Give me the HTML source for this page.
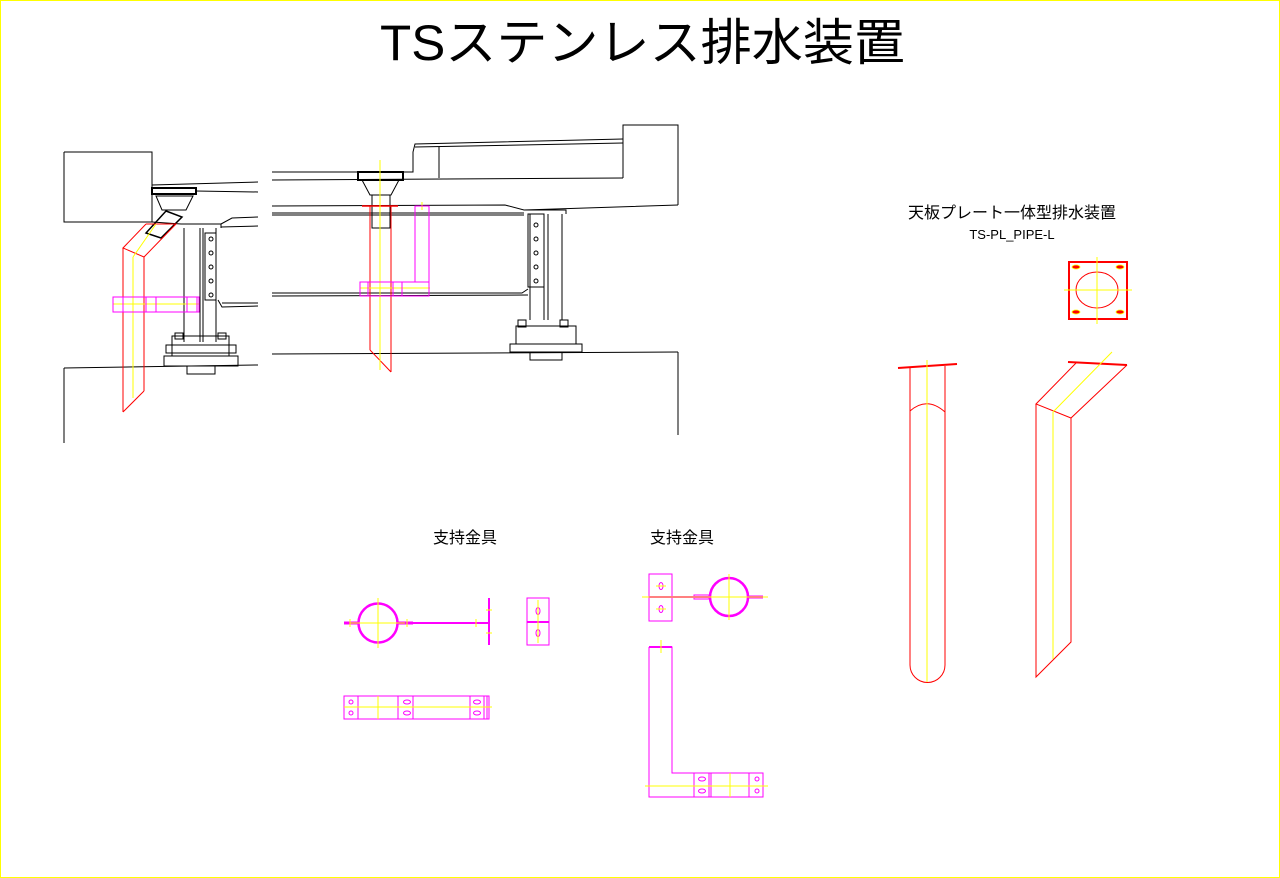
<!DOCTYPE html>
<html><head><meta charset="utf-8"><style>
html,body{margin:0;padding:0;background:#fff;}
svg{display:block;}
text{font-family:"Liberation Sans","Noto Sans CJK JP",sans-serif;}
</style></head><body>
<svg width="1280" height="878" viewBox="0 0 1280 878" xmlns="http://www.w3.org/2000/svg">
<rect x="0.5" y="0.5" width="1279" height="877" fill="#fff" stroke="#ffff00" stroke-width="1"/>
<text x="380" y="60" font-size="50" textLength="525" lengthAdjust="spacingAndGlyphs" fill="#000">TSステンレス排水装置</text>

<g fill="none" stroke="#000" stroke-width="1">
<!-- LEFT SECTION -->
<polyline points="64,152 152,152 152,222 64,222 64,152"/>
<line x1="152" y1="185" x2="258" y2="182"/>
<line x1="196" y1="191" x2="258" y2="192"/>
<line x1="152" y1="222" x2="181" y2="224"/>
<rect x="152" y="188" width="44" height="6" stroke-width="2"/>
<polygon points="156,196 193,196 186,210 162,210"/>
<polygon points="166,211 182,217 161,238 146,233" stroke-width="1.5"/>
<polyline points="181,224 221,224 221,228"/>
<line x1="184" y1="228" x2="184" y2="342"/>
<line x1="200" y1="228" x2="200" y2="342"/>
<line x1="203" y1="228" x2="203" y2="342"/>
<line x1="216" y1="228" x2="216" y2="342"/>
<rect x="205" y="233" width="11" height="67"/>
<circle cx="211" cy="239" r="2"/><circle cx="211" cy="253" r="2"/><circle cx="211" cy="267" r="2"/><circle cx="211" cy="281" r="2"/><circle cx="211" cy="295" r="2"/>
<polyline points="221,224 232,218 258,217"/>
<line x1="221" y1="227" x2="258" y2="226"/>
<polyline points="218,300 222,307 258,306"/>
<line x1="222" y1="303" x2="258" y2="303"/>
<rect x="172" y="336" width="57" height="20"/>
<rect x="175" y="333" width="8" height="6"/><rect x="218" y="333" width="8" height="6"/>
<rect x="166" y="345" width="70" height="8"/>
<rect x="164" y="356" width="74" height="10"/>
<rect x="187" y="366" width="28" height="8"/>
<line x1="64" y1="368" x2="258" y2="365"/>
<line x1="64" y1="368" x2="64" y2="443"/>

<!-- RIGHT SECTION -->
<line x1="272" y1="172" x2="358" y2="172"/>
<polyline points="403,172 413,172 413,152 415,144 623,139"/>
<line x1="415" y1="147" x2="623" y2="143"/>
<line x1="439" y1="147" x2="439" y2="178"/>
<line x1="272" y1="180" x2="623" y2="178"/>
<polyline points="623,178 623,125 678,125 678,205"/>
<polyline points="272,206 505,205 524,210 678,205"/>
<line x1="272" y1="213" x2="524" y2="213"/>
<line x1="272" y1="215" x2="524" y2="215"/>
<polyline points="272,293 522,293 528,289"/>
<line x1="272" y1="296" x2="528" y2="295"/>
<rect x="358" y="172" width="45" height="8" stroke-width="2"/>
<polygon points="362,180 399,180 391,195 370,195"/>
<rect x="372" y="195" width="18" height="33"/>
<polyline points="524,210 566,210 566,214"/>
<line x1="530" y1="214" x2="530" y2="320"/>
<line x1="544" y1="214" x2="544" y2="320"/>
<line x1="548" y1="214" x2="548" y2="320"/>
<line x1="562" y1="214" x2="562" y2="320"/>
<rect x="528" y="214" width="16" height="73"/>
<circle cx="536" cy="225" r="2"/><circle cx="536" cy="239" r="2"/><circle cx="536" cy="253" r="2"/><circle cx="536" cy="267" r="2"/><circle cx="536" cy="281" r="2"/>
<rect x="516" y="326" width="60" height="18"/>
<rect x="518" y="320" width="8" height="7"/><rect x="560" y="320" width="8" height="7"/>
<rect x="510" y="344" width="72" height="8"/>
<rect x="530" y="352" width="32" height="8"/>
<line x1="272" y1="354" x2="678" y2="352"/>
<line x1="678" y1="352" x2="678" y2="435"/>
</g>

<!-- red pipes in section -->
<g fill="none" stroke="#ff0000" stroke-width="1">
<polyline points="146,224 176,224 144,257 123,248 146,224"/>
<line x1="123" y1="248" x2="123" y2="412"/>
<line x1="144" y1="257" x2="144" y2="391"/>
<line x1="144" y1="391" x2="123" y2="412"/>
<line x1="362" y1="206" x2="398" y2="206" stroke-width="1.5"/>
<line x1="370" y1="206" x2="370" y2="350"/>
<line x1="391" y1="206" x2="391" y2="372"/>
<line x1="370" y1="350" x2="391" y2="372"/>
</g>
<g fill="none" stroke="#ffff00" stroke-width="1">
<line x1="133" y1="257" x2="133" y2="398"/>
<line x1="133" y1="257" x2="156" y2="224"/>
<line x1="113" y1="304" x2="199" y2="304"/>
<line x1="380" y1="160" x2="380" y2="370"/>
<line x1="360" y1="288" x2="430" y2="288"/>
<line x1="422" y1="202" x2="422" y2="210"/>
</g>
<g fill="none" stroke="#ff00ff" stroke-width="1">
<rect x="113" y="297" width="86" height="15"/>
<line x1="123" y1="297" x2="123" y2="312"/><line x1="146" y1="297" x2="146" y2="312"/><line x1="156" y1="297" x2="156" y2="312"/><line x1="187" y1="297" x2="187" y2="312"/><line x1="197" y1="297" x2="197" y2="312"/>
<polyline points="415,282 415,206 429,206 429,296"/>
<rect x="360" y="282" width="69" height="14"/>
<line x1="368" y1="282" x2="368" y2="296"/><line x1="393" y1="282" x2="393" y2="296"/><line x1="402" y1="282" x2="402" y2="296"/>
</g>

<!-- right pipe drawings -->
<text x="1012" y="218" font-size="16" text-anchor="middle" fill="#000">天板プレート一体型排水装置</text>
<text x="1012" y="239" font-size="13" text-anchor="middle" fill="#000">TS-PL_PIPE-L</text>
<g fill="none" stroke="#ff0000" stroke-width="1">
<rect x="1069" y="262" width="58" height="57" stroke-width="2"/>
<ellipse cx="1097" cy="290" rx="21" ry="18"/>
<line x1="898" y1="368" x2="957" y2="364" stroke-width="2"/>
<line x1="910" y1="368" x2="910" y2="665"/>
<line x1="945" y1="366" x2="945" y2="665"/>
<path d="M910,665 A17.5,17.5 0 0 0 945,665"/>
<path d="M910,411 Q927,396 945,412"/>
<line x1="1068" y1="362" x2="1127" y2="365" stroke-width="2"/>
<polyline points="1077,362 1036,404 1071,418 1127,365"/>
<polyline points="1036,404 1036,677 1071,642 1071,418"/>
</g>
<g fill="#ff0000" stroke="#ffff00" stroke-width="0.8">
<ellipse cx="1076" cy="267" rx="4" ry="2"/><ellipse cx="1120" cy="267" rx="4" ry="2"/><ellipse cx="1076" cy="312" rx="4" ry="2"/><ellipse cx="1120" cy="312" rx="4" ry="2"/>
</g>
<g fill="none" stroke="#ffff00" stroke-width="1">
<line x1="1097" y1="257" x2="1097" y2="324"/>
<line x1="1064" y1="290" x2="1132" y2="290"/>
<line x1="927" y1="360" x2="927" y2="682"/>
<line x1="1112" y1="352" x2="1053" y2="412"/>
<line x1="1053" y1="412" x2="1053" y2="659"/>
</g>

<!-- brackets -->
<text x="465" y="543" font-size="16" text-anchor="middle" fill="#000">支持金具</text>
<text x="682" y="543" font-size="16" text-anchor="middle" fill="#000">支持金具</text>
<g fill="none" stroke="#ff00ff" stroke-width="1">
<circle cx="378" cy="623" r="19.5" stroke-width="2.5"/>
<line x1="344" y1="623" x2="359" y2="623" stroke-width="3"/>
<line x1="397" y1="623" x2="413" y2="623" stroke-width="3"/>
<line x1="413" y1="623" x2="488" y2="623" stroke-width="2"/>
<line x1="489" y1="598" x2="489" y2="645" stroke-width="2"/>
<rect x="527" y="598" width="22" height="47"/>
<line x1="527" y1="622" x2="549" y2="622" stroke-width="2"/>
<ellipse cx="538" cy="611" rx="2" ry="3.5"/><ellipse cx="538" cy="633" rx="2" ry="3.5"/>
<rect x="344" y="696" width="145" height="23"/>
<line x1="358" y1="696" x2="358" y2="719"/><line x1="398" y1="696" x2="398" y2="719"/><line x1="413" y1="696" x2="413" y2="719"/><line x1="470" y1="696" x2="470" y2="719"/><line x1="484" y1="696" x2="484" y2="719"/><line x1="487" y1="696" x2="487" y2="719"/>
<ellipse cx="351" cy="702" rx="2" ry="2"/><ellipse cx="351" cy="713" rx="2" ry="2"/>
<ellipse cx="407" cy="702" rx="3.5" ry="2"/><ellipse cx="407" cy="713" rx="3.5" ry="2"/>
<ellipse cx="477" cy="702" rx="3.5" ry="2"/><ellipse cx="477" cy="713" rx="3.5" ry="2"/>
<rect x="649" y="574" width="23" height="47"/>
<line x1="649" y1="597" x2="710" y2="597" stroke-width="2"/>
<ellipse cx="661" cy="586" rx="2" ry="3.5"/><ellipse cx="661" cy="609" rx="2" ry="3.5"/>
<rect x="694" y="595" width="15" height="4"/>
<circle cx="729" cy="597" r="19" stroke-width="2.5"/>
<line x1="748" y1="597" x2="763" y2="597" stroke-width="3"/>
<polyline points="649,647 672,647 672,773 763,773 763,797 649,797 649,647"/>
<line x1="649" y1="647" x2="672" y2="647" stroke-width="2"/>
<line x1="694" y1="773" x2="694" y2="797"/><line x1="709" y1="773" x2="709" y2="797"/><line x1="711" y1="773" x2="711" y2="797"/><line x1="749" y1="773" x2="749" y2="797"/>
<ellipse cx="702" cy="779" rx="3.5" ry="2"/><ellipse cx="702" cy="791" rx="3.5" ry="2"/>
<ellipse cx="757" cy="779" rx="2" ry="2"/><ellipse cx="757" cy="791" rx="2" ry="2"/>
</g>
<g fill="none" stroke="#ffff00" stroke-width="1">
<line x1="378" y1="598" x2="378" y2="648"/><line x1="350" y1="623" x2="405" y2="623"/>
<line x1="350" y1="619" x2="350" y2="627"/><line x1="407" y1="619" x2="407" y2="627"/><line x1="476" y1="619" x2="476" y2="627"/>
<line x1="486" y1="610" x2="492" y2="610"/><line x1="486" y1="633" x2="492" y2="633"/>
<line x1="538" y1="600" x2="538" y2="643"/>
<line x1="344" y1="707" x2="492" y2="707"/><line x1="378" y1="696" x2="378" y2="719"/>
<line x1="642" y1="597" x2="768" y2="597"/><line x1="729" y1="574" x2="729" y2="620"/>
<line x1="656" y1="586" x2="666" y2="586"/><line x1="656" y1="609" x2="666" y2="609"/>
<line x1="661" y1="640" x2="661" y2="653"/>
<line x1="645" y1="786" x2="768" y2="786"/><line x1="730" y1="773" x2="730" y2="797"/>
</g>
</svg>
</body></html>
